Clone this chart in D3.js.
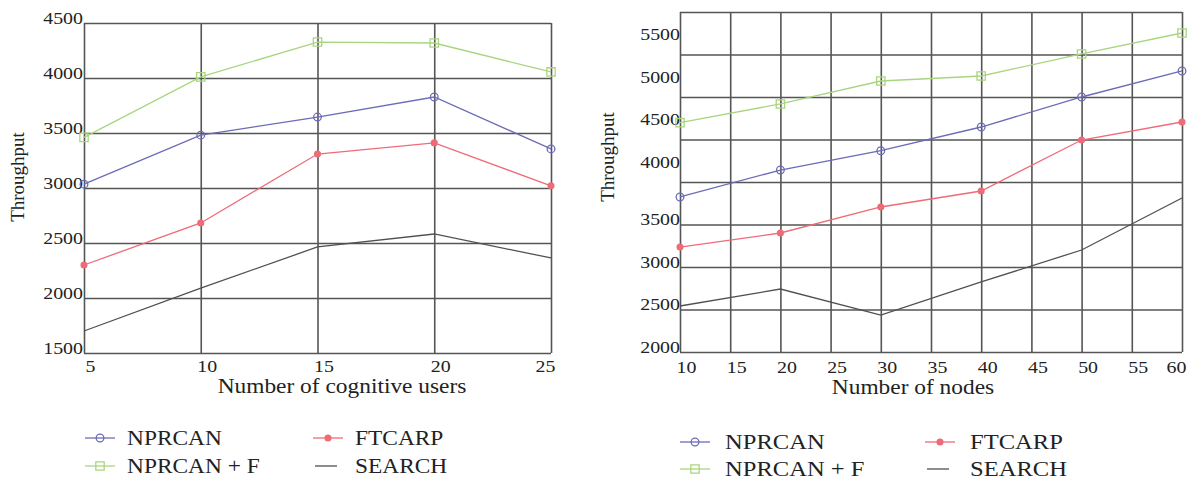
<!DOCTYPE html>
<html>
<head>
<meta charset="utf-8">
<script src="https://cdn.jsdelivr.net/npm/d3@7"></script>
<style>
  body { margin: 0; background: #fff; }
  svg { display: block; font-family: "Liberation Serif", "Times New Roman", serif; }
</style>
</head>
<body>
<svg id="chart" width="1195" height="481"></svg>
<script>
// Left panel: throughput vs number of cognitive users
var usersX = [5, 10, 15, 20, 25];
var usersNprcan = [3035, 3480, 3645, 3827, 3355];
var usersNprcanF = [3460, 4010, 4327, 4318, 4055];
var usersFtcarp = [2300, 2682, 3309, 3410, 3020];
var usersSearch = [1700, 2090, 2464, 2582, 2364];
var usersXTicks = [5, 10, 15, 20, 25];
var usersYTicks = [1500, 2000, 2500, 3000, 3500, 4000, 4500];

// Right panel: throughput vs number of nodes
var nodesX = [10, 20, 30, 40, 50, 60];
var nodesNprcan = [3824, 4141, 4368, 4647, 5000, 5306];
var nodesNprcanF = [4698, 4918, 5188, 5247, 5506, 5753];
var nodesFtcarp = [3235, 3400, 3706, 3894, 4494, 4706];
var nodesSearch = [2541, 2741, 2435, 2824, 3200, 3812];
var nodesXTicks = [10, 15, 20, 25, 30, 35, 40, 45, 50, 55, 60];
var nodesYGrid = [2000, 2500, 3000, 3500, 4000, 4500, 5000, 5500, 6000];
var nodesYLabels = [2000, 2500, 3000, 3500, 4000, 4500, 5000, 5500];

var seriesNames = ['NPRCAN', 'FTCARP', 'NPRCAN + F', 'SEARCH'];

// the source figure is stretched sideways, so its upright text is wider than normal
var SX = 1.17;

var styles = {
  'NPRCAN':     { color: '#6b6bb8', symbol: d3.symbolCircle, size: 46, fill: 'none' },
  'FTCARP':     { color: '#ee6b78', symbol: d3.symbolCircle, size: 26, fill: '#ee6b78' },
  'NPRCAN + F': { color: '#a9d57f', symbol: d3.symbolSquare, size: 70, fill: 'none' },
  'SEARCH':     { color: '#505050', symbol: null }
};

var svg = d3.select('#chart');

function drawPanel(p) {
  var x = d3.scaleLinear().domain(p.xDomain).range([p.left, p.right]);
  var y = d3.scaleLinear().domain(p.yDomain).range([p.bottom, p.top]);
  var g = svg.append('g');

  // horizontal grid + y labels
  var labelSet = new Set(p.yLabels);
  var yAxis = g.append('g')
    .attr('transform', 'translate(' + p.left + ',0)')
    .call(d3.axisLeft(y).tickValues(p.yGrid).tickSize(-(p.right - p.left)).tickPadding(p.yPad)
      .tickFormat(function (d) { return labelSet.has(d) ? String(d) : ''; }))
    .attr('font-family', null).attr('font-size', null);
  yAxis.select('.domain').remove();
  yAxis.selectAll('line').attr('stroke', '#555').attr('stroke-width', 1.6);
  yAxis.selectAll('text')
    .attr('fill', '#222').attr('font-size', 17)
    .attr('dy', 0)
    .attr('y', function (d) { return p.yShift ? p.yShift(d) : 0; })
    .attr('x', -p.yPad / SX)
    .attr('transform', 'scale(' + SX + ',1)');

  // vertical grid + x labels
  var n = p.xTicks.length;
  var xAxis = g.append('g')
    .attr('transform', 'translate(0,' + p.bottom + ')')
    .call(d3.axisBottom(x).tickValues(p.xTicks).tickSize(-(p.bottom - p.top)))
    .attr('font-family', null).attr('font-size', null);
  xAxis.select('.domain').remove();
  xAxis.selectAll('line').attr('stroke', '#555').attr('stroke-width', 1.6);
  xAxis.selectAll('text')
    .attr('fill', '#222').attr('font-size', 17)
    .attr('dy', 0).attr('y', p.xLabelY)
    .attr('x', function (d, i) { return (i === n - 1 ? -6 : 6) / SX; })
    .attr('transform', 'scale(' + SX + ',1)');

  // titles
  g.append('text')
    .attr('transform', 'translate(' + p.xTitleX + ',' + p.xTitleY + ') scale(' + SX + ',1)')
    .attr('text-anchor', 'middle').attr('font-size', 20).attr('fill', '#222')
    .text(p.xTitle);
  g.append('text')
    .attr('transform', 'translate(' + p.yTitleX + ',' + p.yTitleY + ') rotate(-90)')
    .attr('text-anchor', 'middle').attr('font-size', 19).attr('fill', '#222')
    .text('Throughput');

  // series
  var line = d3.line().x(function (d) { return x(d[0]); }).y(function (d) { return y(d[1]); });
  var order = ['SEARCH', 'FTCARP', 'NPRCAN', 'NPRCAN + F'];
  order.forEach(function (name) {
    var st = styles[name];
    var pts = p.xs.map(function (v, i) { return [v, p.values[name][i]]; });
    g.append('path').datum(pts)
      .attr('d', line).attr('fill', 'none')
      .attr('stroke', st.color).attr('stroke-width', 1.3);
    if (st.symbol) {
      g.selectAll(null).data(pts).enter().append('path')
        .attr('transform', function (d) { return 'translate(' + x(d[0]) + ',' + y(d[1]) + ')'; })
        .attr('d', d3.symbol().type(st.symbol).size(st.size))
        .attr('fill', st.fill).attr('stroke', st.color).attr('stroke-width', 1.3);
    }
  });

  // legend, two columns by two rows
  var lg = g.append('g');
  seriesNames.forEach(function (name, i) {
    var st = styles[name];
    var col = i % 2, row = Math.floor(i / 2);
    var lx = p.legend.x + col * p.legend.col;
    var ly = p.legend.y + row * p.legend.row;
    var my = ly - 7;
    var x0 = name === 'SEARCH' ? lx + 2 : lx;
    var x1 = name === 'SEARCH' ? lx + 24 : lx + 30;
    lg.append('line')
      .attr('x1', x0).attr('x2', x1).attr('y1', my).attr('y2', my)
      .attr('stroke', st.color).attr('stroke-width', 1.3);
    if (st.symbol) {
      lg.append('path')
        .attr('transform', 'translate(' + (lx + 15) + ',' + my + ')')
        .attr('d', d3.symbol().type(st.symbol).size(st.size))
        .attr('fill', st.fill).attr('stroke', st.color).attr('stroke-width', 1.3);
    }
    lg.append('text')
      .attr('transform', 'translate(' + (lx + p.legend.text) + ',' + ly + ') scale(' + SX + ',1)')
      .attr('font-size', p.legend.font).attr('fill', '#222')
      .text(name);
  });
}

drawPanel({
  left: 84, right: 551, top: 23, bottom: 353,
  xDomain: [5, 25], yDomain: [1500, 4500],
  xTicks: usersXTicks, yGrid: usersYTicks, yLabels: usersYTicks, yPad: 1,
  xLabelY: 19,
  xs: usersX,
  values: { 'NPRCAN': usersNprcan, 'FTCARP': usersFtcarp, 'NPRCAN + F': usersNprcanF, 'SEARCH': usersSearch },
  xTitle: 'Number of cognitive users', xTitleX: 342, xTitleY: 393,
  yTitleX: 24, yTitleY: 177,
  legend: { x: 85, y: 445, col: 228, row: 28, text: 42, font: 20 }
});

drawPanel({
  left: 680, right: 1182, top: 12, bottom: 352,
  xDomain: [10, 60], yDomain: [2000, 6000],
  xTicks: nodesXTicks, yGrid: nodesYGrid, yLabels: nodesYLabels, yPad: 0,
  // in the source the upper labels sit well above their grid lines
  yShift: function (d) { return d >= 4000 ? -15 : 0; },
  xLabelY: 21,
  xs: nodesX,
  values: { 'NPRCAN': nodesNprcan, 'FTCARP': nodesFtcarp, 'NPRCAN + F': nodesNprcanF, 'SEARCH': nodesSearch },
  xTitle: 'Number of nodes', xTitleX: 913, xTitleY: 394,
  yTitleX: 614, yTitleY: 157,
  legend: { x: 680, y: 449, col: 245, row: 27, text: 45, font: 21 }
});
</script>
</body>
</html>
